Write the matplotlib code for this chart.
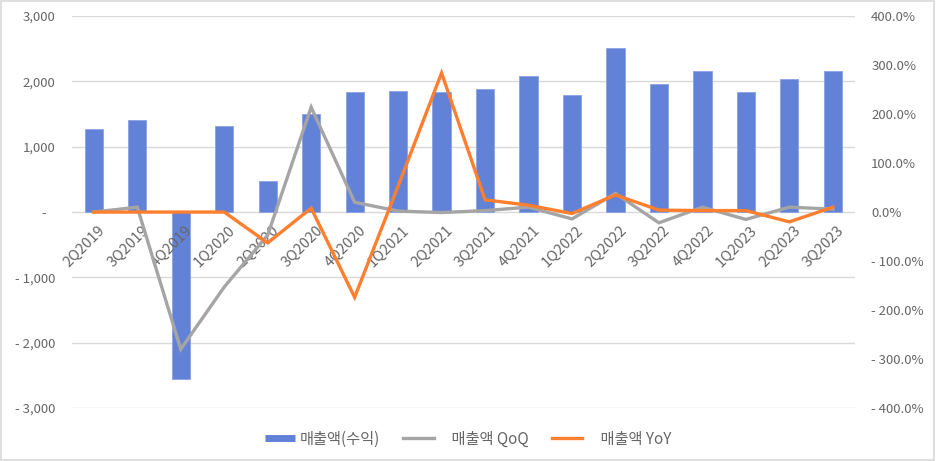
import numpy as np
import matplotlib.pyplot as plt
from matplotlib.patches import Rectangle
from matplotlib.lines import Line2D
from matplotlib.ticker import FuncFormatter

plt.rcParams['font.family'] = ['Noto Sans CJK KR', 'DejaVu Sans']

quarters = ['2Q2019', '3Q2019', '4Q2019', '1Q2020', '2Q2020', '3Q2020', '4Q2020',
            '1Q2021', '2Q2021', '3Q2021', '4Q2021', '1Q2022', '2Q2022', '3Q2022',
            '4Q2022', '1Q2023', '2Q2023', '3Q2023']
revenue = [1270, 1410, -2555, 1317, 475, 1500, 1833, 1858, 1842, 1879, 2083,
           1787, 2516, 1955, 2159, 1842, 2037, 2154]
qoq = [0, 10, -280, -153, -47, 214, 20, 2, -1, 3, 10, -14, 38, -22, 10, -15, 10, 6]
yoy = [0, 0, 0, 0, -63, 8, -174, 53, 284, 25, 14, -3, 35, 4, 3, 3, -20, 10]

txt = '#666666'
fig = plt.figure(figsize=(9.36, 4.61), dpi=100)
ax = fig.add_axes([0.077, 0.115, 0.836, 0.85])
ax2 = ax.twinx()

x = np.arange(len(quarters))
ax.bar(x, revenue, width=0.42, color='#6282d8', edgecolor='#8aa3e3', linewidth=0.6, zorder=2)
ax.set_ylim(-3000, 3000)
ax.set_yticks(np.arange(-3000, 3001, 1000))
ax.set_xlim(-0.5, len(quarters) - 0.5)
ax.grid(axis='y', color='#d9d9d9', linewidth=1, zorder=0)
ax.set_axisbelow(True)


def left_fmt(v, pos):
    if v == 0:
        return '-   '
    if v < 0:
        return '- {:,.0f}'.format(-v)
    return '{:,.0f}'.format(v)


def right_fmt(v, pos):
    if v < 0:
        return '- {:.1f}%'.format(-v)
    return '{:.1f}%'.format(abs(v))


ax.yaxis.set_major_formatter(FuncFormatter(left_fmt))

ax2.plot(x, qoq, color='#a5a5a5', linewidth=2.4, solid_joinstyle='miter')
ax2.plot(x, yoy, color='#ff7f2f', linewidth=2.4, solid_joinstyle='miter')
ax2.set_ylim(-400, 400)
ax2.set_yticks(np.arange(-400, 401, 100))
ax2.yaxis.set_major_formatter(FuncFormatter(right_fmt))

for a in (ax, ax2):
    for s in a.spines.values():
        s.set_visible(False)
    a.tick_params(axis='y', length=0, labelcolor=txt, labelsize=9.5)
ax.tick_params(axis='y', pad=12)
ax2.tick_params(axis='y', pad=12)

ax.set_xticks(x)
ax.set_xticklabels([])
ax.tick_params(axis='x', length=0)
for xi, q in zip(x, quarters):
    ax.annotate(q, (xi, 0), xytext=(3, -8), textcoords='offset points',
                rotation=45, ha='right', va='top', rotation_mode='anchor',
                color=txt, fontsize=10.5, zorder=5)

handles = [Line2D([], [], color='#6282d8', linewidth=5, solid_capstyle='butt'),
           Line2D([], [], color='#a5a5a5', linewidth=2.4),
           Line2D([], [], color='#ff7f2f', linewidth=2.4)]
labels = ['매출액(수익)', '    매출액 QoQ', '    매출액 YoY']
leg = fig.legend(handles, labels, loc='center', bbox_to_anchor=(0.5, 0.047), ncol=3,
                 frameon=False, fontsize=11, columnspacing=1.5, handlelength=2.0,
                 handletextpad=0.3)
for t in leg.get_texts():
    t.set_color(txt)

fig.patches.append(Rectangle((0.001, 0.002), 0.997, 0.996, transform=fig.transFigure,
                             fill=False, edgecolor='#d9d9d9', linewidth=1.2))

fig.savefig('out.png', dpi=100)
